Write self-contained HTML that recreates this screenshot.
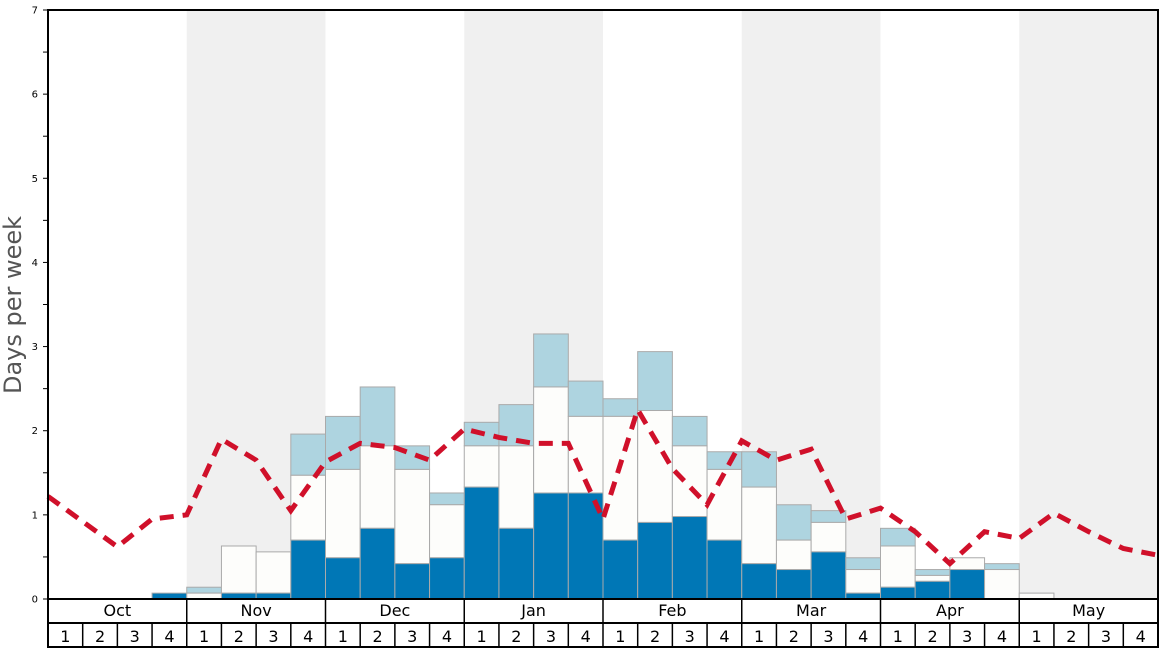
<!DOCTYPE html>
<html><head><meta charset="utf-8"><style>
html,body{margin:0;padding:0;background:#fff;width:1168px;height:648px;overflow:hidden}
svg{display:block;font-family:"DejaVu Sans","Liberation Sans",sans-serif}
</style></head><body>
<svg id="c" width="1168" height="648" xmlns="http://www.w3.org/2000/svg"></svg>
<script>
const s=document.getElementById('c');const NS='http://www.w3.org/2000/svg';
function el(t,a,txt){const e=document.createElementNS(NS,t);for(const k in a)e.setAttribute(k,a[k]);if(txt!==undefined)e.textContent=txt;s.appendChild(e);return e;}
const X0=48,X1=1158,Y0=599,Yt=10,W=(X1-X0)/32,U=(Y0-Yt)/7;
const y=v=>Y0-v*U;
[1,3,5,7].forEach(m=>el('rect',{x:X0+m*4*W,y:Yt,width:4*W,height:Y0-Yt,fill:'#f0f0f0'}));
const bars=[[0,0,0],[0,0,0],[0,0,0],[0.07,0.07,0.07],[0,0.07,0.14],[0.07,0.63,0.63],[0.07,0.56,0.56],[0.7,1.47,1.96],[0.49,1.54,2.17],[0.84,1.82,2.52],[0.42,1.54,1.82],[0.49,1.12,1.26],[1.33,1.82,2.1],[0.84,1.82,2.31],[1.26,2.52,3.15],[1.26,2.17,2.59],[0.7,2.17,2.38],[0.91,2.24,2.94],[0.98,1.82,2.17],[0.7,1.54,1.75],[0.42,1.33,1.75],[0.35,0.7,1.12],[0.56,0.91,1.05],[0.07,0.35,0.49],[0.14,0.63,0.84],[0.21,0.28,0.35],[0.35,0.49,0.49],[0,0.35,0.42],[0,0.07,0.07]];
bars.forEach((b,i)=>{const x=X0+i*W;
 if(b[2]>b[1])el('rect',{x:x,y:y(b[2]),width:W,height:(b[2]-b[1])*U,fill:'#aed4e0',stroke:'#aaa','stroke-width':1});
 if(b[1]>b[0])el('rect',{x:x,y:y(b[1]),width:W,height:(b[1]-b[0])*U,fill:'#fdfdfb',stroke:'#aaa','stroke-width':1});
 if(b[0]>0)el('rect',{x:x,y:y(b[0]),width:W,height:b[0]*U,fill:'#0077b6',stroke:'#aaa','stroke-width':1});
});
const L=[1.22,0.92,0.62,0.95,1.0,1.9,1.65,1.05,1.63,1.85,1.8,1.65,2.02,1.92,1.85,1.85,0.95,2.25,1.55,1.12,1.88,1.65,1.78,0.95,1.08,0.8,0.42,0.8,0.72,1.02,0.8,0.6,0.52];
el('polyline',{points:L.map((v,i)=>(X0+i*W)+','+y(v)).join(' '),fill:'none',stroke:'#d0102a','stroke-width':5,'stroke-dasharray':'14,9'});
el('rect',{x:X0,y:Yt,width:X1-X0,height:Y0-Yt,fill:'none',stroke:'#000','stroke-width':2});
el('line',{x1:X0,y1:Y0,x2:X1,y2:Y0,stroke:'#888','stroke-width':1.5});
for(let v=0;v<=7;v+=0.5){const yy=y(v);el('line',{x1:X0-5,y1:yy,x2:X0,y2:yy,stroke:'#000','stroke-width':1});
 if(v%1===0)el('text',{x:X0-10,y:yy+3.5,'font-size':10,'text-anchor':'end',fill:'#000'},String(v));}
el('text',{x:13,y:305,'font-size':24,'text-anchor':'middle','dominant-baseline':'central',fill:'#555',transform:'rotate(-90 13 305)'},'Days per week');
el('rect',{x:X0,y:Y0,width:X1-X0,height:48,fill:'none',stroke:'#000','stroke-width':2});
el('line',{x1:X0,y1:623,x2:X1,y2:623,stroke:'#000','stroke-width':2});
const M=['Oct','Nov','Dec','Jan','Feb','Mar','Apr','May'];
M.forEach((m,i)=>{const x=X0+i*4*W;if(i>0)el('line',{x1:x,y1:Y0,x2:x,y2:647,stroke:'#000','stroke-width':1.5});
 el('text',{x:x+2*W,y:616,'font-size':16,'text-anchor':'middle',fill:'#000'},m);
 for(let k=0;k<4;k++){const wx=x+k*W;if(k>0)el('line',{x1:wx,y1:623,x2:wx,y2:647,stroke:'#000','stroke-width':1.5});
  el('text',{x:wx+W/2,y:642,'font-size':16,'text-anchor':'middle',fill:'#000'},String(k+1));}
});
</script>
</body></html>
